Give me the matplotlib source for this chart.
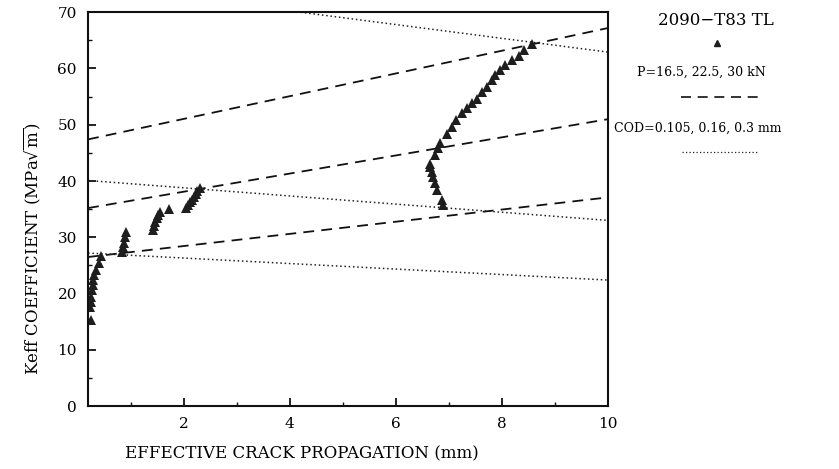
import numpy as np
import matplotlib
matplotlib.use('Agg')
import matplotlib.pyplot as plt

plt.rcParams['font.family'] = 'DejaVu Serif'
plt.rcParams['mathtext.fontset'] = 'dejavuserif'

# measured Keff vs effective crack propagation (2090-T83 TL)
crack = [0.25, 0.24, 0.25, 0.26, 0.28, 0.29, 0.30, 0.32, 0.35, 0.40, 0.45,
         0.83, 0.85, 0.87, 0.89, 0.91,
         1.42, 1.44, 1.46, 1.49, 1.52, 1.56, 1.72,
         2.05, 2.09, 2.12, 2.16, 2.19, 2.23, 2.26, 2.30,
         6.89, 6.86, 6.77, 6.74, 6.70, 6.67, 6.65, 6.64, 6.74, 6.80,
         6.83, 6.96, 7.05, 7.14, 7.24, 7.33, 7.43, 7.52, 7.62, 7.71,
         7.81, 7.87, 7.96, 8.06, 8.18, 8.31, 8.41, 8.56]
keff = [15.3, 17.6, 18.5, 19.4, 20.6, 21.5, 22.4, 23.3, 24.2, 25.4, 26.6,
        27.4, 28.2, 29.0, 30.0, 31.0,
        31.3, 32.0, 32.7, 33.4, 34.0, 34.5, 35.1,
        35.2, 35.7, 36.2, 36.7, 37.2, 37.7, 38.2, 38.7,
        35.7, 36.6, 38.4, 39.6, 40.7, 41.6, 42.5, 43.1, 44.6, 45.8,
        46.7, 48.4, 49.6, 50.8, 52.0, 52.9, 53.8, 54.6, 55.8, 56.7,
        57.9, 58.8, 59.7, 60.6, 61.5, 62.3, 63.2, 64.3]

# constant load lines (P = 16.5, 22.5, 30 kN): end points
line_x = [0.2, 10]
load_k = [[26.5, 37.1], [35.2, 51.0], [47.4, 67.2]]
# constant COD lines (0.105, 0.16, 0.3 mm)
cod_k = [[27.2, 22.4], [40.1, 33.0], [74.9, 62.9]]

fig = plt.figure(figsize=(8.39, 4.69), dpi=100)
ax = fig.add_axes([0.105, 0.134, 0.62, 0.84])

for k in load_k:
    ax.plot(line_x, k, color='#111111', linestyle=(0, (6, 4)), linewidth=1.3)
for k in cod_k:
    ax.plot(line_x, k, color='#222222', linestyle=(0, (1, 1.8)), linewidth=1.1)

ax.plot(crack, keff, linestyle='None', marker='^', markersize=7.5,
        color='#1e1e1e', markeredgewidth=0)

ax.set_xlim(0.2, 10)
ax.set_ylim(0, 70)
ax.set_xticks([2, 4, 6, 8, 10])
ax.set_xticks([1, 3, 5, 7, 9], minor=True)
ax.set_yticks(np.arange(0, 71, 10))
ax.set_yticks(np.arange(5, 70, 10), minor=True)
ax.tick_params(which='both', direction='in', labelsize=11, color='#111111')
ax.tick_params(which='major', length=6, width=1.3, pad=8)
ax.tick_params(which='minor', length=3, width=1.0)
for s in ax.spines.values():
    s.set_linewidth(1.5)
    s.set_color('#111111')

fig.text(0.36, 0.032, 'EFFECTIVE CRACK PROPAGATION (mm)', ha='center', va='center', fontsize=12)
fig.text(0.038, 0.47, r'Keff COEFFICIENT (MPa$\sqrt{\mathrm{m}}$)', ha='center', va='center',
         rotation=90, fontsize=12)

# key on the right
fig.text(0.853, 0.957, '2090\u2212T83 TL', ha='center', va='center', fontsize=12)
fig.lines.append(plt.Line2D([0.855], [0.908], marker='^', markersize=5, color='#1e1e1e',
                            transform=fig.transFigure))
fig.text(0.836, 0.845, 'P=16.5, 22.5, 30 kN', ha='center', va='center', fontsize=9)
fig.lines.append(plt.Line2D([0.812, 0.907], [0.793, 0.793], linestyle=(0, (6, 4)),
                            linewidth=1.2, color='#111111', transform=fig.transFigure))
fig.text(0.832, 0.727, 'COD=0.105, 0.16, 0.3 mm', ha='center', va='center', fontsize=9)
fig.lines.append(plt.Line2D([0.813, 0.905], [0.676, 0.676], linestyle=(0, (1, 1.8)),
                            linewidth=0.9, color='#222222', transform=fig.transFigure))

fig.savefig('out.png', dpi=100)
